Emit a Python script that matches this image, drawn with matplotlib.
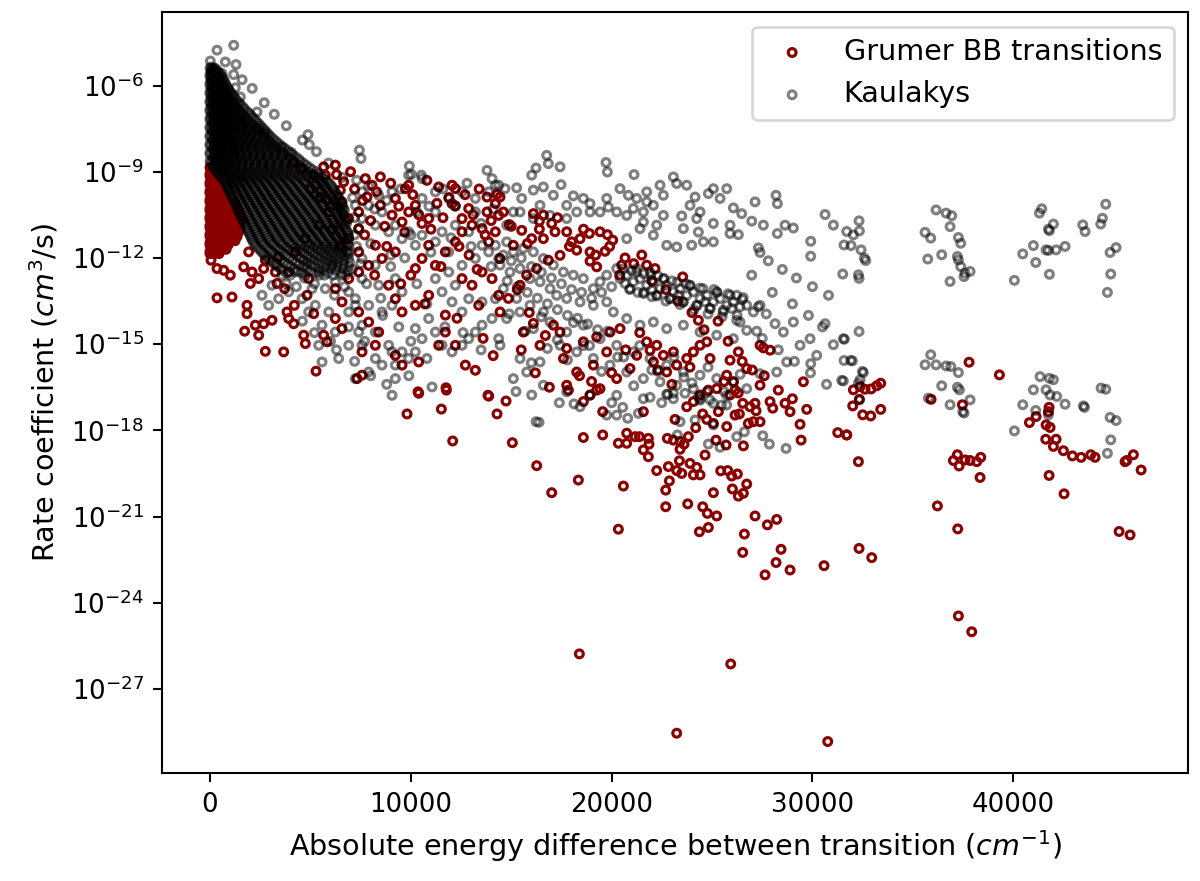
import numpy as np
import matplotlib
matplotlib.use("Agg")
import matplotlib.pyplot as plt

# energy difference (cm^-1), log10 of rate coefficient (cm^3/s)
grumer_points = [
    # left / lower-left scatter
    (4167, -8.66), (4582, -8.89), (5661, -8.83), (6242, -8.77), (5163, -9.12), (5744, -9.12), (5246, -9.47),
    (6657, -9.35), (6491, -9.64), (7736, -9.24), (8483, -9.18), (8068, -9.47), (7819, -9.88),
    (9894, -9.47), (9728, -9.59), (11388, -9.53), (12052, -9.47), (12218, -9.59), (13795, -9.88),
    (14293, -9.79), (8483, -10.17), (9230, -9.93), (10226, -10.17), (9894, -10.40), (9064, -10.51),
    (9562, -10.75), (10558, -10.80), (10890, -10.63), (12052, -10.11), (12218, -10.19), (12882, -10.28),
    (12550, -10.63), (13048, -10.86), (13795, -10.40), (14210, -10.11), (14376, -10.52), (13546, -10.98),
    (14210, -11.09), (13878, -11.44), (12550, -11.09), (12218, -11.44), (11720, -11.79), (10890, -11.56),
    (10558, -12.02), (11222, -12.26), (10226, -12.37), (9230, -11.79), (8566, -12.02), (7902, -12.26),
    (8234, -11.56), (7404, -11.79), (6906, -11.33), (7404, -10.98), (6906, -10.63), (7404, -10.40),
    (6574, -10.05), (5910, -10.40), (5412, -10.86), (4748, -11.33), (4250, -11.79), (3918, -12.49),
    (4914, -12.72), (7404, -12.49), (6906, -12.72), (6242, -13.07), (6574, -13.53), (7404, -13.88),
    (7902, -14.23), (8400, -14.58), (8234, -15.04), (7570, -15.27), (9230, -15.39), (9562, -15.73),
    (10392, -15.62), (11388, -15.04), (11720, -14.58), (12218, -15.04), (12716, -15.73), (13214, -15.91),
    (11720, -13.99), (10890, -13.30), (10226, -13.65), (9562, -13.88), (12550, -12.72), (13048, -12.95),
    (13546, -12.49), (14044, -12.72), (14376, -13.30), (13380, -13.65), (8898, -12.95), (9230, -13.42),
    (50, -12.08), (349, -12.37), (681, -12.43), (1013, -12.60), (1677, -12.31), (2092, -12.49),
    (2009, -12.89), (2673, -12.37), (2424, -12.72), (3254, -12.49), (3337, -12.89), (3718, -13.07),
    (4200, -13.65), (4831, -13.30), (349, -13.39), (1096, -13.36), (1843, -13.65), (1843, -13.94),
    (2258, -14.34), (2673, -14.29), (3088, -14.17), (3835, -13.88), (3918, -14.11), (4167, -14.29),
    (1726, -14.55), (2424, -14.69), (2756, -15.25), (3669, -15.27), (4665, -14.69), (4748, -14.98),
    (5163, -13.94), (5661, -14.69), (5827, -14.92), (5279, -15.94), (7321, -16.20), (7570, -16.08),
    (10358, -16.66), (11753, -16.52), (13844, -16.78), (6242, -14.11), (6574, -14.46),
    (1926, -11.79), (2756, -12.08), (3420, -11.96),
    (9811, -17.43), (10392, -16.71), (11521, -17.26), (11770, -16.60), (12085, -18.37),
    (13878, -16.81), (14293, -17.43),
    (5000, -9.60), (5500, -9.90), (6000, -10.20), (6300, -9.10), (7000, -9.00), (7200, -9.60), (7600, -10.00),
    (8000, -10.70), (8300, -9.70), (8700, -10.90), (9000, -9.40), (9400, -10.20), (9700, -11.10),
    (10100, -9.80), (10400, -10.50), (10800, -9.30), (11000, -11.00), (11300, -10.10), (11600, -10.60),
    (11900, -9.90), (12400, -11.60), (12700, -9.80), (13100, -10.50), (13400, -9.60), (13700, -11.20),
    (14000, -10.70), (8800, -11.60), (10000, -12.60), (11500, -12.30), (12900, -11.90), (13300, -12.40),
    (6100, -11.00), (6500, -11.60), (7700, -11.20), (8200, -12.60), (9500, -12.90), (10700, -13.60),
    (12300, -14.10), (13600, -14.80), (14100, -15.40),
    # middle region
    (14442, -9.88), (14608, -10.40), (14907, -10.84), (15521, -11.04), (16102, -10.46), (16401, -10.72),
    (16600, -10.51), (17015, -10.80), (16019, -11.33), (16600, -11.33), (17181, -11.09), (17762, -11.09),
    (18011, -11.44), (18426, -11.33), (18891, -11.15), (19422, -11.09), (19787, -11.19), (20053, -11.38),
    (18260, -11.73), (18924, -11.79), (19671, -11.77), (20667, -12.00), (20501, -12.25), (18924, -12.11),
    (19256, -12.31), (21746, -12.25), (22161, -12.37), (23539, -12.66), (17430, -11.91), (16849, -12.08),
    (16268, -12.37), (15770, -12.60), (15438, -12.95), (14857, -13.41), (14442, -13.88), (15604, -14.58),
    (16102, -14.28), (17098, -14.34), (17430, -14.58), (16434, -15.04), (17762, -15.15), (18592, -14.92),
    (19256, -14.75), (19920, -14.58), (20418, -14.46), (19754, -15.27), (19090, -15.73), (18260, -15.97),
    (17762, -16.43), (19422, -16.55), (20252, -16.20), (20916, -15.85), (21248, -15.39), (21746, -14.92),
    (22244, -15.04), (21912, -15.21), (22576, -15.39), (23074, -15.27), (22078, -15.62), (22742, -15.97),
    (23240, -15.73), (23738, -15.50), (24070, -15.27), (24402, -15.04), (24734, -14.92), (24319, -14.17),
    (25896, -15.56), (26311, -15.27), (26726, -15.85), (25730, -16.08), (26062, -16.31), (27390, -15.04),
    (27888, -15.21), (27556, -15.13), (27390, -16.43), (29548, -16.31), (25232, -16.55),
    (15106, -11.56), (14442, -12.02),
    (15000, -10.90), (15800, -11.50), (16400, -11.00), (17300, -10.60), (17900, -11.60), (18600, -11.00),
    (19200, -11.90), (19900, -11.60), (20400, -12.60), (21100, -12.20), (21500, -11.90), (22000, -12.80),
    (22700, -13.10), (23300, -13.50), (24000, -13.90), (24600, -14.50), (25300, -14.20), (25800, -14.90),
    (26500, -15.60), (27000, -15.90), (15300, -13.10), (15900, -13.90), (16700, -14.70), (17600, -15.50),
    (18400, -16.10), (19000, -16.30), (20000, -16.00), (20700, -15.20), (21400, -14.60), (22300, -15.90),
    (23000, -16.40), (23900, -15.80), (24900, -15.50), (25600, -16.30), (26300, -16.70), (27600, -16.10),
    (28300, -16.60), (29000, -16.90), (15500, -15.20), (16200, -16.00), (16900, -16.50),
    (14741, -16.98), (15056, -18.43), (16268, -19.23), (17015, -20.17), (18343, -19.73), (18592, -18.25),
    (19555, -18.16), (20335, -18.45), (20750, -18.10), (20750, -18.45), (21165, -18.22), (21381, -18.22),
    (21829, -18.28), (21862, -18.48), (21580, -18.68), (21829, -18.92), (20335, -21.44), (20584, -19.94),
    (22244, -19.40), (22775, -18.28), (23074, -18.34), (23157, -17.62), (23406, -18.39), (23406, -18.66),
    (23605, -18.48), (23821, -18.22), (23373, -19.06), (22825, -19.26), (23240, -19.40), (23489, -19.50),
    (23904, -19.15), (24070, -19.55), (24236, -19.29), (24402, -19.55), (22875, -19.76), (22692, -20.08),
    (22692, -20.66), (23788, -20.56), (24651, -18.86), (25066, -20.17), (24535, -20.66), (24767, -20.89),
    (25232, -20.98), (24369, -21.53), (24817, -21.38), (25431, -19.41), (25780, -19.40), (25979, -19.59),
    (26261, -19.52), (26726, -19.87), (26012, -20.04), (26311, -20.29), (26560, -20.19), (27141, -20.98),
    (27755, -21.29), (28220, -21.10), (26610, -21.61), (26527, -22.25), (28436, -22.14), (28187, -22.60),
    (27639, -23.03), (28884, -22.86), (30577, -22.71), (18393, -25.78), (25929, -26.13), (23240, -28.54),
    (30760, -28.83), (29432, -18.34), (29382, -17.79), (31258, -18.08), (31706, -18.16), (29714, -17.27),
    (28635, -17.06), (28884, -17.35), (27888, -17.00), (28021, -17.23), (26560, -18.54), (25697, -18.51),
    (25199, -18.34), (24186, -17.91), (24535, -17.43), (24734, -17.62), (25066, -17.76), (25315, -17.35),
    (25730, -17.87), (26145, -17.47), (26360, -17.43), (26527, -17.06), (26892, -17.18), (27141, -17.06),
    (27191, -17.32), (27390, -17.70), (27058, -17.70), (26809, -17.76), (23738, -17.18), (21580, -17.35),
    (19555, -17.35), (18592, -17.00), (18924, -16.77), (19256, -16.60), (17845, -16.60), (25896, -16.77),
    (26145, -16.60), (24817, -16.60), (24402, -16.77), (24070, -17.00),
    # right region
    (32038, -16.59), (32370, -16.48), (32619, -16.57), (32918, -16.56), (33200, -16.45), (33399, -16.36),
    (32005, -17.15), (32337, -16.92), (32503, -17.46), (32901, -17.50), (33399, -17.27), (31706, -18.16),
    (32287, -19.09), (37798, -15.63), (39309, -16.07), (35906, -16.92), (37466, -17.11), (37018, -19.05),
    (37217, -18.85), (37300, -19.24), (37599, -19.03), (37848, -19.05), (38180, -19.09), (38379, -18.94),
    (38346, -19.64), (36221, -20.63), (37234, -21.43), (41782, -17.20), (41749, -17.35), (41135, -17.52),
    (40803, -17.73), (41633, -17.81), (41832, -17.90), (41616, -18.31), (42131, -18.31), (41998, -18.56),
    (42496, -18.71), (42944, -18.89), (43376, -18.94), (43857, -18.85), (44073, -18.94), (45650, -19.05),
    (45567, -19.09), (45982, -18.85), (46364, -19.38), (41782, -19.57), (42529, -20.21), (45268, -21.52),
    (45816, -21.64), (32320, -22.11), (32951, -22.43), (37267, -24.46), (37931, -25.01),
]

# dense cluster of Grumer rates at small energy gaps: (log10 k, energy differences)
grumer_core_rows = [
    (-8.850, [0, 120]),
    (-8.925, [40, 170]),
    (-9.000, [60, 200]),
    (-9.075, [0, 130, 260]),
    (-9.150, [0, 140, 290]),
    (-9.225, [60, 210, 350]),
    (-9.300, [70, 220, 380]),
    (-9.375, [0, 140, 300, 440]),
    (-9.450, [0, 150, 310, 470]),
    (-9.525, [70, 230, 390, 540]),
    (-9.600, [80, 240, 400, 580]),
    (-9.675, [0, 160, 320, 490, 650]),
    (-9.750, [0, 160, 330, 500, 700]),
    (-9.825, [80, 250, 420, 600, 780]),
    (-9.900, [90, 260, 430, 620, 820]),
    (-9.975, [0, 170, 340, 520, 710, 900]),
    (-10.050, [0, 170, 350, 530, 730, 950]),
    (-10.125, [90, 260, 440, 630, 830, 1030]),
    (-10.200, [100, 270, 450, 640, 850, 1080]),
    (-10.275, [0, 180, 360, 550, 750, 960, 1150]),
    (-10.350, [0, 180, 360, 550, 750, 970, 1200]),
    (-10.425, [90, 270, 460, 660, 870, 1090, 1280]),
    (-10.500, [100, 280, 470, 670, 880, 1100, 1320]),
    (-10.575, [0, 190, 380, 580, 790, 1010, 1230, 1420]),
    (-10.650, [0, 190, 380, 580, 790, 1010, 1240, 1450]),
    (-10.725, [100, 290, 490, 700, 920, 1140, 1370, 1530]),
    (-10.800, [110, 300, 500, 710, 930, 1160, 1380]),
    (-10.875, [0, 200, 400, 610, 830, 1060, 1290, 1480]),
    (-10.950, [0, 200, 400, 610, 830, 1060, 1300, 1500]),
    (-11.025, [100, 300, 510, 730, 960, 1200, 1420]),
    (-11.100, [110, 310, 520, 740, 970, 1210, 1430]),
    (-11.175, [0, 210, 420, 640, 870, 1110, 1330]),
    (-11.250, [0, 200, 410, 630, 860, 1100, 1350]),
    (-11.325, [100, 310, 530, 760, 1000, 1200]),
    (-11.400, [100, 300, 520, 750, 990, 1250]),
    (-11.475, [0, 210, 430, 660, 880]),
    (-11.550, [0, 200, 420, 650, 900]),
    (-11.625, [90, 310, 540, 760]),
    (-11.700, [80, 300, 550, 800]),
    (-11.775, [0, 200, 420]),
    (-11.850, [0, 220, 450]),
]

kaulakys_points = [
    # top outliers
    (349, -4.77), (1179, -4.60), (17, -5.15), (764, -5.18), (1295, -5.27), (50, -5.35), (1179, -5.62),
    (598, -5.58), (1262, -6.08), (1511, -6.40), (2341, -6.92), (2424, -7.50), (2723, -7.64), (4881, -7.71),
    (4947, -8.06), (3586, -8.14), (4051, -8.33), (7437, -8.25), (7520, -8.54), (9927, -8.80), (10027, -9.09),
    (10525, -9.12), (13795, -8.95), (14044, -9.24), (14210, -9.47), (200, -5.40), (100, -5.50),
    (7200, -10.60), (7400, -11.00), (7100, -9.90), (6600, -9.20), (5900, -8.70), (5300, -8.30),
    (4600, -7.90), (3800, -7.40), (3200, -7.00), (2700, -6.60), (2100, -6.10), (1600, -5.80),
    (7300, -11.60), (7500, -12.20),
    # left scatter beyond the dense core
    (6906, -11.79), (7570, -12.02), (8234, -12.25), (7570, -12.72), (8400, -12.95), (9230, -12.72),
    (9562, -13.18), (9064, -13.65), (8566, -13.88), (7902, -13.65), (7238, -13.42), (6906, -13.88),
    (7570, -14.34), (8234, -14.58), (8898, -15.04), (9064, -15.27), (9230, -15.73), (9894, -15.50),
    (10226, -15.27), (10558, -14.81), (10226, -14.46), (10890, -14.11), (11222, -14.58), (11554, -15.04),
    (12052, -15.27), (12550, -15.04), (12882, -14.81), (13214, -14.58), (13546, -14.34), (14044, -14.11),
    (14376, -14.81), (12550, -13.88), (12052, -13.53), (11554, -13.18), (12218, -12.95), (12882, -13.42),
    (13546, -13.53), (14210, -13.42), (11222, -12.72), (11886, -12.49), (12550, -12.26), (13214, -12.02),
    (13878, -11.79), (14376, -12.02), (11886, -11.79), (11222, -11.44), (10226, -11.56), (9562, -11.33),
    (8898, -11.09), (8234, -10.86), (7570, -10.63), (7238, -10.17), (7902, -10.17), (8566, -10.40),
    (9230, -10.86), (9894, -11.09), (10558, -11.21), (11554, -11.09), (12218, -10.86), (12882, -11.09),
    (13546, -11.56), (14210, -11.56), (7570, -9.70), (8400, -9.82), (9064, -9.70), (9894, -9.12),
    (10558, -9.24), (11222, -9.70), (11886, -9.93), (12550, -9.70), (13214, -9.93), (13878, -9.70),
    (14376, -9.47), (13214, -10.40), (11222, -10.40), (10558, -9.93),
    (7570, -15.04), (8234, -15.50), (8566, -15.73), (7902, -15.97), (9230, -16.20), (9562, -15.27),
    (7404, -14.58), (6906, -15.04), (6242, -14.58), (5578, -14.34), (5910, -13.88), (5246, -13.65),
    (4582, -13.42), (4914, -13.88), (5412, -15.04), (6408, -15.50), (5578, -15.62), (3918, -13.18),
    (3420, -13.42), (2922, -13.65), (2590, -13.30), (3088, -12.95), (3586, -12.60), (4250, -12.49),
    (4748, -12.26), (5412, -12.49), (6076, -12.26), (6574, -12.60), (6242, -12.84), (5744, -13.07),
    (5080, -13.07), (6906, -13.18), (7238, -16.20), (11056, -16.49), (9064, -16.78), (7238, -13.65),
    (3300, -12.20), (3800, -12.90), (4300, -13.00), (4700, -12.70), (5200, -12.90), (5700, -12.60),
    (6200, -13.30), (6700, -13.00), (7100, -12.40), (7800, -12.90), (8500, -13.40), (9000, -12.30),
    (9700, -12.00), (10300, -12.90), (10800, -13.60), (4600, -14.20), (5200, -14.60), (6000, -14.90),
    (6900, -14.40), (7700, -14.90), (8600, -14.00), (9400, -14.40), (10000, -14.90), (10800, -15.50),
    (11700, -14.40), (12600, -14.60), (13500, -15.20), (6300, -15.20), (7200, -15.60), (8000, -16.10),
    (8800, -16.40), (9900, -16.10),
    (7300, -9.30), (7900, -9.50), (8200, -10.30), (8800, -10.00), (9500, -9.60), (10300, -10.40),
    (10900, -10.20), (11600, -9.60), (12200, -10.20), (12800, -9.40), (13500, -10.80), (14100, -10.30),
    (7200, -11.20), (8000, -11.50), (9000, -11.90), (10000, -11.20), (11000, -11.80), (12000, -11.30),
    (13000, -11.60), (14000, -12.30),
    # middle scatter
    (16766, -8.43), (16849, -8.72), (16235, -8.87), (17430, -8.83), (16019, -9.12), (16600, -9.53),
    (17480, -9.45), (19721, -8.68), (19787, -9.01), (21115, -9.10), (23074, -9.18), (23240, -9.41),
    (14691, -9.59), (15272, -9.56), (15521, -9.93), (16102, -9.64), (17098, -9.82), (18094, -9.84),
    (18924, -10.11), (19754, -9.93), (20418, -9.59), (20833, -9.82), (21248, -9.93), (21746, -10.05),
    (22576, -9.82), (22078, -10.17), (21580, -10.40), (24153, -9.88), (24817, -9.76), (24402, -10.40),
    (23904, -10.17), (26062, -10.26), (26477, -10.46), (27141, -10.05), (28187, -9.82), (28253, -10.11),
    (23489, -10.54), (25066, -10.80), (25896, -10.86), (26975, -10.72), (27556, -10.86), (28635, -10.86),
    (29050, -10.96), (28253, -11.15), (30627, -10.49), (31042, -10.86), (29913, -11.42), (29913, -11.94),
    (27307, -11.65), (27390, -11.81), (25896, -11.15), (26311, -11.19), (25066, -11.44), (22742, -11.56),
    (23240, -11.62), (23987, -11.56), (24568, -11.44), (23572, -10.98), (24319, -11.10), (22576, -10.52),
    (22244, -10.86), (21580, -10.75), (20750, -10.52), (19837, -10.23), (19422, -10.40), (18924, -10.40),
    (18260, -10.40), (17762, -10.63), (16932, -10.52), (16102, -10.63), (15106, -10.40), (14774, -10.86),
    (20750, -11.33), (21414, -10.98), (22078, -11.21), (26975, -12.60), (27390, -13.65), (29880, -14.81),
    (29913, -15.68), (30627, -14.29), (31042, -15.02), (31540, -14.81), (31457, -16.26), (27390, -16.03),
    (28137, -14.29), (28552, -14.58), (29050, -14.23), (26726, -14.52), (27224, -14.55), (26228, -14.17),
    (23738, -9.47), (25066, -9.59), (25730, -9.59), (25398, -9.93), (24236, -10.63), (22410, -9.47),
    (21746, -9.70), (21082, -10.28), (20252, -10.40), (18592, -9.93), (17762, -10.17), (16434, -10.17),
    (15438, -10.40), (26394, -14.23), (29382, -15.04), (30212, -15.39), (28718, -15.62), (28220, -15.97),
    (27800, -12.10), (28500, -12.40), (29200, -12.70), (30000, -13.00), (30800, -13.30), (28000, -13.20),
    (29000, -13.60), (29800, -14.00), (30500, -14.40), (27500, -14.80), (28300, -15.20), (29100, -15.60),
    (29900, -16.00), (30700, -16.40),
    # upper diagonal band
    (20418, -12.72), (20750, -12.60), (21082, -12.83), (21414, -12.72), (21746, -12.95), (22078, -12.83),
    (22410, -13.07), (22742, -12.95), (23074, -13.18), (23406, -13.07), (23738, -13.30), (24070, -13.18),
    (24402, -13.41), (24734, -13.30), (25066, -13.53), (25398, -13.41), (25730, -13.65), (26062, -13.53),
    (26394, -13.70), (20916, -13.07), (21580, -13.24), (22244, -13.30), (22908, -13.41), (23572, -13.53),
    (24236, -13.65), (24900, -13.76), (25564, -13.82), (21248, -12.37), (21912, -12.49), (20252, -12.37),
    (19754, -12.60), (19422, -12.83), (19090, -13.07), (18592, -12.72), (18094, -12.60), (17596, -12.49),
    (17098, -12.25), (16600, -12.02), (16102, -11.79), (15604, -11.67), (15106, -11.79), (14774, -11.44),
    (20667, -12.89), (22000, -13.12), (23323, -13.30), (24651, -13.53), (25979, -13.76), (26726, -13.65),
    (27058, -13.88), (22576, -12.72), (23904, -12.95), (25232, -13.18), (26228, -13.30),
    (20580, -12.38), (20900, -13.10), (21250, -12.50), (21600, -13.20), (21950, -12.60), (22250, -13.32),
    (22600, -12.72), (22900, -13.42), (23250, -12.85), (23550, -13.54), (23900, -12.96), (24250, -13.65),
    (24550, -13.07), (24900, -13.76), (25250, -13.20), (25550, -13.88), (25900, -13.30), (26250, -14.00),
    (26550, -13.38), (21000, -12.45), (21600, -12.55), (22300, -12.62), (23000, -12.80), (23700, -12.90),
    (24400, -13.05), (25100, -13.10), (25800, -13.25), (26500, -13.45), (27300, -13.70), (27700, -13.95),
    (21300, -13.20), (22000, -13.35), (22700, -13.50), (23400, -13.62), (24100, -13.80), (24800, -13.95),
    (25500, -14.05),
    (14442, -12.25), (14940, -12.49), (15438, -12.37), (15936, -12.72), (16434, -12.83), (16932, -13.07),
    (17264, -13.30), (17762, -13.41), (18426, -13.53), (19090, -13.65), (19754, -13.53), (14608, -13.07),
    (15272, -13.41), (15936, -13.65), (16600, -13.88), (20086, -13.88), (20750, -14.11), (21414, -14.34),
    (22078, -14.23), (22742, -14.46), (23572, -14.34), (24402, -14.58), (25232, -14.69), (26062, -14.81),
    (14600, -11.90), (15000, -12.10), (15500, -12.00), (16000, -12.30), (16500, -12.50), (17000, -12.70),
    (17500, -12.90), (18000, -13.10), (18500, -13.20), (19000, -13.40), (19500, -13.20), (20000, -13.00),
    (14800, -12.80), (15300, -13.00), (15800, -13.20), (16300, -13.40), (16800, -13.60), (17300, -13.80),
    (17800, -14.00), (18300, -14.10), (18800, -14.30), (19300, -14.50),
    # lower diagonal band
    (14774, -14.11), (15438, -13.88), (16102, -14.46), (16932, -14.23), (17762, -14.58), (18592, -14.34),
    (19422, -14.81), (20252, -15.04), (21082, -15.27), (21912, -15.50), (22742, -15.73), (23572, -15.97),
    (24402, -16.08), (25232, -16.20), (26062, -16.31), (17430, -15.04), (18260, -15.27), (19090, -15.50),
    (19920, -15.73), (20750, -15.97), (21580, -16.20), (22410, -16.31), (23240, -16.43), (24070, -16.55),
    (24734, -16.66), (16434, -15.62), (15770, -15.97), (15106, -16.20), (14442, -15.04), (15438, -15.50),
    (16600, -16.43), (17762, -16.66), (18924, -16.78), (20252, -16.78), (21580, -16.90), (23074, -16.90),
    (24402, -16.90), (25730, -16.78), (26726, -16.55),
    (14900, -13.95), (15700, -14.55), (16500, -14.05), (17300, -14.85), (18100, -14.25), (18900, -15.05),
    (19800, -14.55), (20600, -15.45), (21400, -15.05), (22300, -15.95), (23100, -15.45), (24000, -16.35),
    (24800, -15.80), (25600, -16.65), (26400, -16.05), (17800, -15.55), (18600, -15.05), (19500, -15.95),
    (20300, -15.45), (21100, -16.45), (22000, -15.90), (22800, -16.75), (23600, -16.15), (24400, -16.95),
    (16000, -15.65), (16800, -15.15),
    (15239, -16.65), (16019, -16.77), (16235, -17.70), (16384, -17.72), (17397, -17.04), (18127, -17.08),
    (18426, -17.18), (19754, -17.47), (20003, -17.04), (20551, -17.20), (20800, -17.58), (20252, -17.47),
    (21331, -17.41), (21912, -16.85), (22493, -17.04), (22742, -16.74), (23406, -17.70), (24153, -17.64),
    (23273, -18.16), (24817, -18.48), (25398, -18.59), (25066, -17.81), (26228, -18.22), (26610, -18.05),
    (27523, -18.19), (27855, -18.48), (28685, -18.63), (25066, -17.06), (25481, -17.12), (25730, -17.12),
    (23074, -16.71), (23655, -16.71), (24319, -16.83), (24900, -16.94),
    # right clusters
    (32320, -10.71), (31706, -11.08), (32038, -11.20), (32337, -11.06), (31573, -11.55), (31922, -11.57),
    (32420, -11.72), (32586, -12.01), (32652, -12.09), (31507, -12.56), (32287, -12.59), (32320, -12.71),
    (36155, -10.33), (36653, -10.44), (36935, -10.53), (36852, -10.91), (35607, -11.11), (35889, -11.31),
    (37267, -11.29), (37383, -11.49), (35740, -12.04), (36437, -11.89), (37217, -11.95), (37267, -12.07),
    (37383, -12.30), (37599, -12.53), (37549, -12.65), (37848, -12.47), (36852, -12.82),
    (41417, -10.29), (41301, -10.44), (41749, -11.00), (41998, -10.82), (41799, -11.05), (41002, -11.57),
    (41633, -11.72), (41749, -11.74), (42131, -11.72), (42579, -11.60), (40471, -11.86), (41118, -12.16),
    (41799, -12.57), (40056, -12.78),
    (44604, -10.13), (44438, -10.62), (44355, -10.82), (43459, -10.85), (43575, -11.08), (45119, -11.64),
    (44820, -11.81), (44853, -12.56), (44687, -13.20),
    (32320, -14.56), (31590, -14.83), (31573, -15.57), (31905, -15.57), (31988, -15.58), (32486, -15.95),
    (32536, -15.99), (32370, -16.24), (32287, -16.36), (31540, -16.28), (32337, -16.94),
    (35889, -15.37), (35607, -15.72), (36155, -15.72), (36653, -15.76), (36885, -15.78), (37267, -15.99),
    (36437, -16.45), (37217, -16.50), (37317, -16.59), (35773, -16.88), (37848, -16.94), (36852, -17.11),
    (37483, -17.35), (37549, -17.40),
    (41334, -16.13), (41799, -16.19), (41998, -16.24), (41002, -16.59), (41633, -16.59), (41832, -16.77),
    (42164, -16.82), (42579, -17.09), (40471, -17.11), (43492, -17.15), (43542, -17.20), (41118, -17.31),
    (41749, -17.46), (44372, -16.53), (44604, -16.57), (44820, -17.55), (45119, -17.66), (44853, -18.33),
    (44687, -18.80), (40056, -18.02),
]

# dense core of Kaulakys rates at small energy gaps: (log10 k, energy differences)
kaulakys_core_rows = [
    (-5.400, [0, 120, 260]),
    (-5.475, [60, 200, 350]),
    (-5.550, [40, 190, 330, 450]),
    (-5.625, [0, 110, 250, 390, 520]),
    (-5.700, [0, 140, 290, 440, 600]),
    (-5.775, [70, 220, 370, 520, 680]),
    (-5.850, [60, 210, 370, 520, 700]),
    (-5.925, [0, 130, 290, 440, 600, 770]),
    (-6.000, [0, 150, 300, 460, 620, 800]),
    (-6.075, [80, 230, 380, 540, 710, 880]),
    (-6.150, [70, 230, 390, 560, 730, 950]),
    (-6.225, [0, 150, 310, 470, 640, 820, 1020]),
    (-6.300, [0, 160, 330, 500, 680, 860, 1100]),
    (-6.375, [80, 240, 410, 590, 770, 970, 1180]),
    (-6.450, [80, 250, 420, 600, 790, 990, 1250]),
    (-6.525, [0, 160, 330, 510, 700, 890, 1100, 1350]),
    (-6.600, [0, 170, 350, 540, 730, 930, 1150, 1450]),
    (-6.675, [80, 260, 440, 630, 830, 1040, 1260, 1520]),
    (-6.750, [90, 270, 460, 650, 860, 1080, 1320, 1650]),
    (-6.825, [0, 180, 360, 560, 760, 970, 1190, 1420, 1720]),
    (-6.900, [0, 180, 370, 570, 780, 1000, 1240, 1500, 1850]),
    (-6.975, [90, 280, 470, 670, 880, 1100, 1330, 1600, 1950]),
    (-7.050, [100, 290, 490, 700, 920, 1150, 1400, 1700, 2050]),
    (-7.125, [0, 190, 390, 590, 800, 1020, 1260, 1520, 1800, 2150]),
    (-7.200, [0, 190, 390, 600, 820, 1050, 1300, 1570, 1880, 2250]),
    (-7.275, [100, 300, 500, 710, 930, 1160, 1410, 1680, 1980, 2350]),
    (-7.350, [110, 310, 520, 740, 970, 1220, 1480, 1780, 2100, 2450]),
    (-7.425, [0, 200, 410, 620, 840, 1080, 1330, 1600, 1900, 2220, 2550]),
    (-7.500, [0, 200, 410, 630, 860, 1100, 1360, 1640, 1950, 2300, 2650]),
    (-7.575, [110, 310, 530, 750, 980, 1230, 1500, 1780, 2080, 2400, 2750]),
    (-7.650, [120, 330, 550, 780, 1020, 1280, 1560, 1860, 2180, 2520, 2850]),
    (-7.725, [0, 220, 440, 670, 910, 1160, 1430, 1720, 2020, 2340, 2680, 2950]),
    (-7.800, [0, 210, 430, 660, 900, 1160, 1430, 1720, 2030, 2370, 2720, 3050]),
    (-7.875, [120, 340, 570, 800, 1050, 1310, 1590, 1890, 2200, 2530, 2880, 3180]),
    (-7.950, [130, 350, 580, 820, 1080, 1350, 1640, 1950, 2280, 2620, 2970, 3300]),
    (-8.025, [0, 230, 460, 700, 950, 1210, 1490, 1780, 2090, 2420, 2760, 3100, 3420]),
    (-8.100, [0, 220, 450, 690, 950, 1220, 1510, 1820, 2150, 2490, 2840, 3200, 3550]),
    (-8.175, [130, 360, 600, 850, 1110, 1380, 1670, 1980, 2300, 2640, 2990, 3340, 3700]),
    (-8.250, [140, 370, 610, 870, 1140, 1430, 1740, 2070, 2410, 2760, 3120, 3480, 3850]),
    (-8.325, [0, 240, 480, 730, 990, 1260, 1550, 1860, 2180, 2520, 2870, 3230, 3600, 3950]),
    (-8.400, [0, 230, 470, 720, 990, 1270, 1570, 1890, 2230, 2580, 2940, 3310, 3690, 4100]),
    (-8.475, [140, 380, 630, 890, 1160, 1450, 1760, 2080, 2420, 2770, 3130, 3500, 3880, 4250]),
    (-8.550, [150, 390, 640, 910, 1190, 1490, 1810, 2150, 2500, 2860, 3230, 3610, 4000, 4400]),
    (-8.625, [0, 250, 500, 760, 1030, 1320, 1630, 1950, 2290, 2640, 3000, 3370, 3750, 4150, 4500]),
    (-8.700, [30, 260, 500, 760, 1040, 1330, 1640, 1970, 2320, 2680, 3050, 3430, 3820, 4220, 4650]),
    (-8.775, [150, 400, 660, 930, 1220, 1520, 1840, 2180, 2530, 2890, 3260, 3640, 4030, 4430, 4800]),
    (-8.850, [160, 410, 670, 950, 1240, 1550, 1880, 2230, 2590, 2960, 3340, 3730, 4130, 4540, 4950]),
    (-8.925, [250, 500, 770, 1050, 1350, 1670, 2010, 2360, 2720, 3090, 3470, 3860, 4260, 4670, 5100]),
    (-9.000, [330, 590, 870, 1160, 1470, 1800, 2150, 2510, 2880, 3260, 3650, 4050, 4460, 4880, 5300]),
    (-9.075, [420, 690, 970, 1270, 1590, 1930, 2290, 2650, 3030, 3410, 3810, 4210, 4620, 5040, 5420]),
    (-9.150, [520, 790, 1080, 1390, 1720, 2070, 2430, 2800, 3180, 3570, 3970, 4380, 4800, 5220, 5550]),
    (-9.225, [600, 880, 1180, 1490, 1830, 2180, 2550, 2920, 3310, 3700, 4100, 4510, 4930, 5350, 5700]),
    (-9.300, [700, 980, 1280, 1600, 1940, 2300, 2670, 3050, 3440, 3840, 4250, 4670, 5090, 5500, 5800]),
    (-9.375, [760, 1040, 1350, 1670, 2020, 2380, 2750, 3130, 3520, 3920, 4330, 4750, 5170, 5580, 5900]),
    (-9.450, [820, 1110, 1420, 1750, 2100, 2460, 2830, 3210, 3600, 4000, 4410, 4830, 5250, 5650, 6000]),
    (-9.525, [870, 1160, 1480, 1810, 2160, 2530, 2900, 3290, 3690, 4090, 4500, 4920, 5340, 5720, 6080]),
    (-9.600, [920, 1220, 1540, 1880, 2230, 2600, 2980, 3370, 3770, 4180, 4600, 5020, 5440, 5800, 6150]),
    (-9.675, [970, 1270, 1600, 1940, 2300, 2670, 3050, 3440, 3840, 4250, 4670, 5090, 5510, 5880, 6220]),
    (-9.750, [1020, 1330, 1660, 2010, 2370, 2740, 3120, 3510, 3910, 4320, 4740, 5160, 5580, 5950, 6300]),
    (-9.825, [1070, 1380, 1720, 2070, 2430, 2810, 3190, 3590, 4000, 4410, 4830, 5250, 5660, 6020, 6350]),
    (-9.900, [1120, 1440, 1780, 2130, 2500, 2880, 3270, 3670, 4080, 4500, 4920, 5340, 5750, 6100, 6400]),
    (-9.975, [1170, 1490, 1840, 2200, 2570, 2950, 3350, 3750, 4170, 4590, 5010, 5430, 5830, 6180, 6450]),
    (-10.050, [1220, 1550, 1900, 2260, 2640, 3030, 3430, 3840, 4260, 4680, 5100, 5520, 5920, 6250, 6500]),
    (-10.125, [1270, 1600, 1960, 2320, 2700, 3090, 3490, 3900, 4320, 4740, 5160, 5580, 5980, 6320, 6550]),
    (-10.200, [1320, 1660, 2020, 2390, 2770, 3160, 3560, 3970, 4390, 4810, 5230, 5650, 6050, 6380, 6600]),
    (-10.275, [1370, 1710, 2080, 2450, 2840, 3230, 3640, 4050, 4470, 4890, 5310, 5730, 6120, 6440, 6650]),
    (-10.350, [1420, 1770, 2140, 2520, 2910, 3310, 3720, 4140, 4560, 4980, 5400, 5810, 6200, 6500, 6700]),
    (-10.425, [1470, 1820, 2200, 2580, 2980, 3380, 3800, 4220, 4640, 5060, 5480, 5880, 6260, 6580]),
    (-10.500, [1520, 1880, 2260, 2650, 3050, 3460, 3880, 4300, 4720, 5140, 5560, 5960, 6330, 6650]),
    (-10.575, [1570, 1930, 2320, 2710, 3120, 3530, 3950, 4370, 4790, 5210, 5630, 6020, 6390, 6700]),
    (-10.650, [1620, 1990, 2380, 2780, 3190, 3610, 4030, 4450, 4870, 5290, 5700, 6090, 6450, 6750]),
    (-10.725, [1670, 2040, 2440, 2840, 3260, 3680, 4100, 4520, 4940, 5360, 5770, 6150, 6500, 6780]),
    (-10.800, [1720, 2100, 2500, 2910, 3330, 3750, 4170, 4590, 5010, 5430, 5840, 6220, 6550, 6800]),
    (-10.875, [1770, 2150, 2560, 2970, 3390, 3810, 4230, 4650, 5070, 5490, 5900, 6280, 6620]),
    (-10.950, [1820, 2210, 2620, 3040, 3460, 3880, 4300, 4720, 5140, 5560, 5970, 6350, 6700]),
    (-11.025, [1870, 2260, 2680, 3100, 3530, 3950, 4380, 4800, 5220, 5640, 6040, 6410, 6780]),
    (-11.100, [1920, 2320, 2740, 3170, 3600, 4030, 4460, 4890, 5310, 5720, 6110, 6480, 6850]),
    (-11.175, [1970, 2370, 2800, 3230, 3670, 4100, 4540, 4970, 5390, 5800, 6190, 6550, 6880]),
    (-11.250, [2020, 2430, 2860, 3300, 3740, 4180, 4620, 5050, 5470, 5880, 6270, 6620, 6900]),
    (-11.325, [2070, 2480, 2920, 3360, 3810, 4250, 4690, 5120, 5540, 5950, 6340, 6700]),
    (-11.400, [2120, 2540, 2980, 3430, 3880, 4330, 4770, 5200, 5620, 6030, 6420, 6780]),
    (-11.475, [2180, 2610, 3060, 3520, 3970, 4420, 4860, 5290, 5710, 6120, 6500, 6850]),
    (-11.550, [2250, 2690, 3150, 3610, 4070, 4520, 4960, 5390, 5810, 6210, 6580, 6900]),
    (-11.625, [2350, 2820, 3300, 3780, 4250, 4710, 5160, 5600, 6020, 6420, 6780]),
    (-11.700, [2450, 2950, 3450, 3950, 4430, 4900, 5350, 5790, 6220, 6620]),
    (-11.775, [2550, 3060, 3570, 4080, 4570, 5040, 5500, 5950, 6380, 6800]),
    (-11.850, [2650, 3180, 3700, 4210, 4700, 5180, 5650, 6100, 6530, 6900]),
    (-11.925, [2750, 3290, 3820, 4340, 4840, 5330, 5810, 6270, 6720]),
    (-12.000, [2850, 3400, 3950, 4480, 4990, 5490, 5980, 6450, 6900]),
    (-12.075, [2970, 3550, 4110, 4660, 5180, 5700, 6190, 6680]),
    (-12.150, [3100, 3700, 4280, 4840, 5380, 5900, 6400, 6950]),
    (-12.225, [3220, 3850, 4450, 5030, 5590, 6120, 6650]),
    (-12.300, [3350, 4000, 4620, 5220, 5800, 6350, 6900]),
    (-12.375, [3500, 4170, 4820, 5440, 6040, 6620]),
    (-12.450, [3650, 4350, 5020, 5660, 6280, 6880]),
    (-12.525, [3820, 4550, 5230, 5890, 6520]),
    (-12.600, [4000, 4750, 5450, 6120, 6760]),
]


def collect(points, rows):
    xs = [p[0] for p in points]
    ys = [p[1] for p in points]
    for logk, row in rows:
        for x in row:
            xs.append(x)
            ys.append(logk)
    return np.array(xs, dtype=float), 10.0 ** np.array(ys)


gx, gy = collect(grumer_points, grumer_core_rows)
kx, ky = collect(kaulakys_points, kaulakys_core_rows)

fig = plt.figure(figsize=(6.4, 4.6987), dpi=187.5)
ax = fig.add_axes([0.135, 0.1221, 0.855, 0.864])

ax.scatter(gx, gy, s=9, facecolors="none", edgecolors="#8b0000",
           linewidths=1.2, label="Grumer BB transitions")
ax.scatter(kx, ky, s=9, facecolors="none", edgecolors="black", alpha=0.5,
           linewidths=1.2, label="Kaulakys")

ax.set_yscale("log")
ax.set_xlim(-2390, 48700)
ax.set_ylim(10 ** -29.94, 10 ** -3.45)
ax.set_yticks([1e-27, 1e-24, 1e-21, 1e-18, 1e-15, 1e-12, 1e-9, 1e-6])
ax.minorticks_off()
ax.tick_params(labelsize=10)
ax.set_xlabel("Absolute energy difference between transition ($cm^{-1}$)", fontsize=11)
ax.set_ylabel("Rate coefficient ($cm^3$/s)", fontsize=11)
ax.legend(loc="upper right", fontsize=11)

fig.savefig("out.png", dpi=187.5)
